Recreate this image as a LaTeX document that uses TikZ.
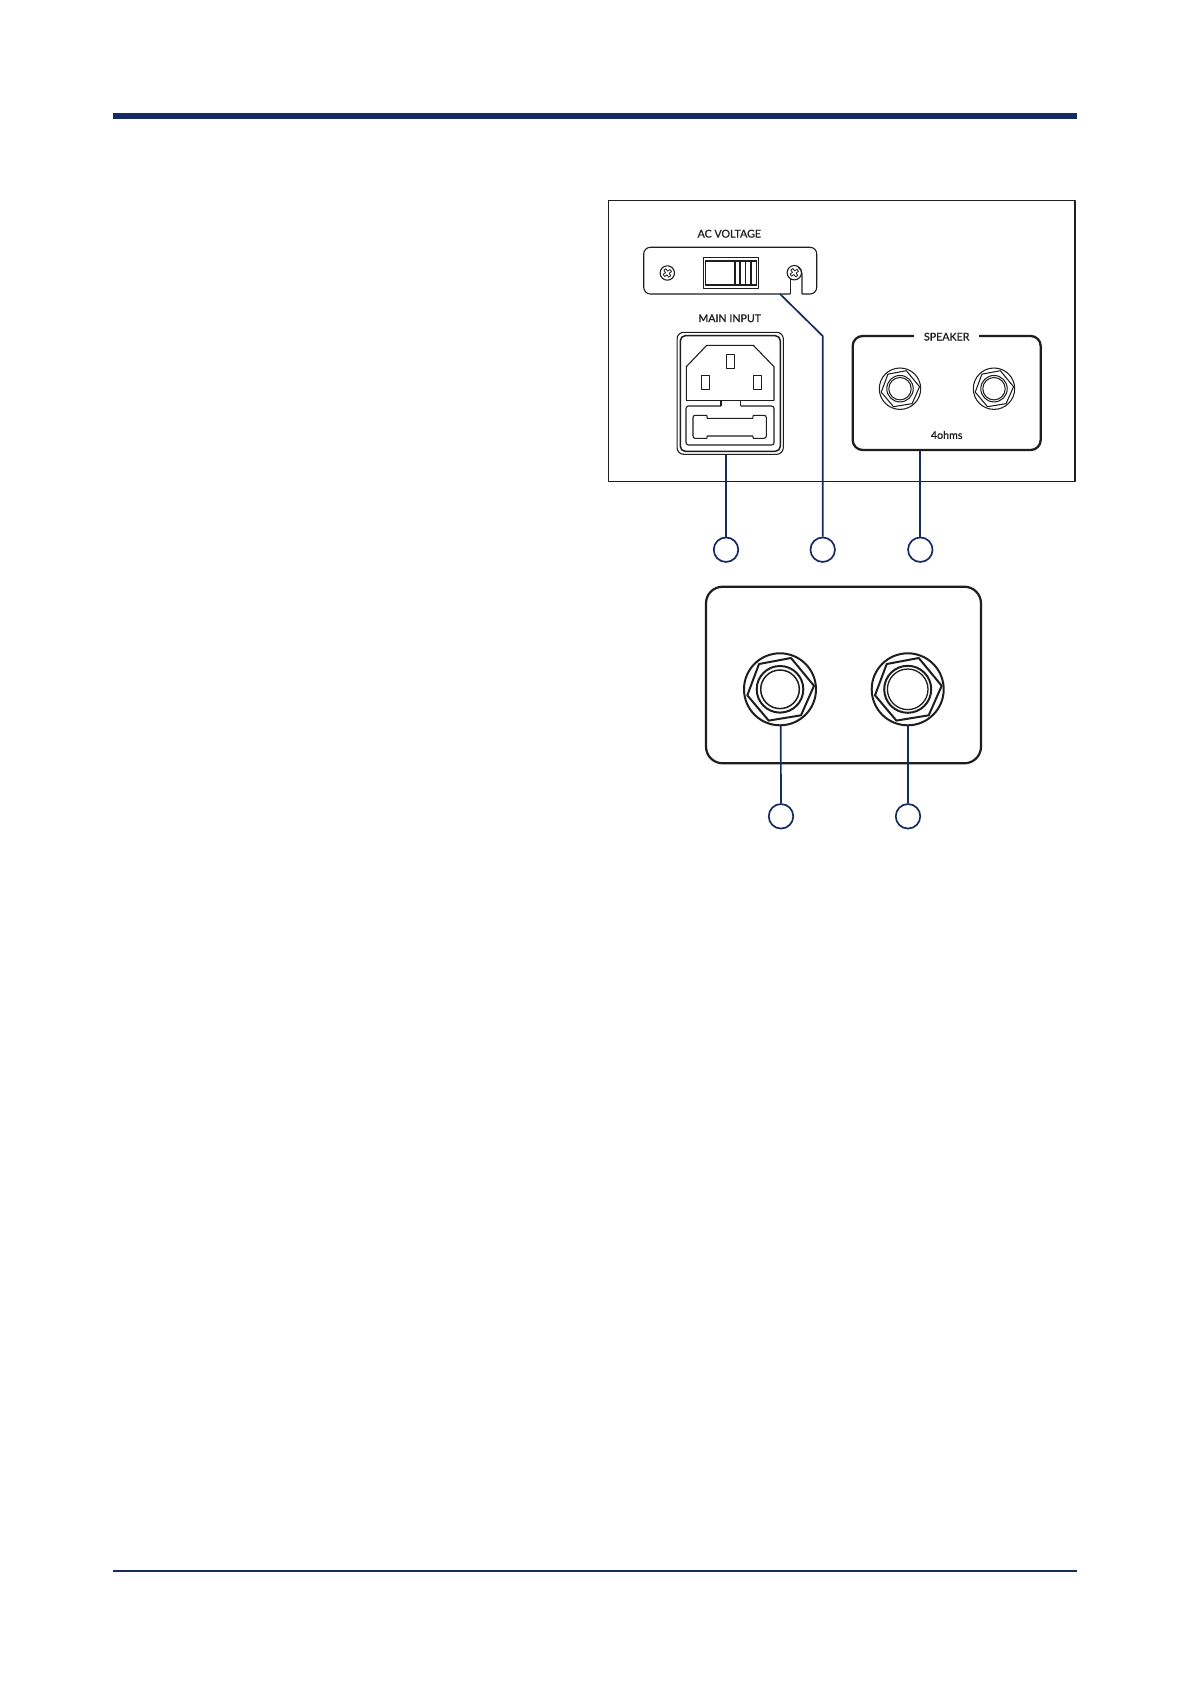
\documentclass[tikz,border=0pt]{standalone}
\usepackage{fontspec}
\setmainfont{Lato}
\definecolor{navy}{HTML}{142B63}
\definecolor{ink}{HTML}{1E1E1E}
\tikzset{
  x=0.6pt,y=-0.6pt,
  px/.style={line width=#1*0.6pt},
  callout/.style={circle,draw=navy,px=1.7,minimum size=24.5*0.6pt,inner sep=0pt,fill=white},
  lead/.style={draw=navy,px=1.7},
  labeltext/.style={text=ink,inner sep=0pt,font=\fontsize{6.4pt}{7pt}\selectfont\addfontfeature{FakeBold=0.9}},
  thin part/.style={draw=ink,px=1.1},
  hole/.style={circle,inner sep=0pt,minimum size=#1*1.2pt},
}
\newcommand{\jackpic}[8]{% x,y,scale,outer lw,hex lw,r1,r2,lw inner
  \begin{scope}[shift={(#1,#2)},scale=#3,draw=ink]
    \draw[px=#4] (0,0) circle[radius=36];
    \draw[px=#5] (34,-3.5) -- (21,26) -- (-11.3,31.3) -- (-32.7,6) -- (-21,-25.3) -- (11,-31.3) -- cycle;
    \draw[px=#4] (0,0) circle[radius=#7];
    \draw[px=#8] (0,0) circle[radius=#6];
  \end{scope}}
\newcommand{\screwpic}[2]{%
  \begin{scope}[shift={(#1,#2)},draw=ink]
    \draw[px=1.1] (0,0) circle[radius=7.2];
    \draw[px=.8,rotate=35] (-4.2,-1.3) -- (-1.3,-1.3) -- (-1.3,-4.2) -- (1.3,-4.2) -- (1.3,-1.3) -- (4.2,-1.3) -- (4.2,1.3) -- (1.3,1.3) -- (1.3,4.2) -- (-1.3,4.2) -- (-1.3,1.3) -- (-4.2,1.3) -- cycle;
  \end{scope}}
\begin{document}
\begin{tikzpicture}[line join=round]
\useasboundingbox[fill=white] (0,0) rectangle (1192,1685);
% rules
\fill[navy] (113,113) rectangle (1077,119);
\fill[navy] (113,1570) rectangle (1077,1572);
% panel
\draw[draw=ink,px=1.3] (608.3,200.3) rectangle (1075,481.3);
% AC voltage plate
\node[labeltext] (acv) at (729.3,233.7) {AC VOLTAGE};
\coordinate (plateexit) at (780,294);
\draw[thin part,rounded corners=4] (790.3,294) -- (643.7,294) -- (643.7,247.3) -- (816.7,247.3) -- (816.7,294) -- (802,294);
\draw[thin part] (790.3,294) -- (790.3,279);
\draw[thin part] (802,294) -- (802,274) arc[start angle=0,end angle=-60,radius=7.7];
\screwpic{667.3}{273}
\screwpic{794.3}{272.7}
\draw[draw=ink,px=1] (703.3,257.7) rectangle (758.7,289);
\draw[draw=ink,px=1.8] (757,285) -- (705.5,285) -- (705.5,260.7) -- (757,260.7);
\draw[draw=ink,px=1.1] (735,260.7) -- (735,285) (740,260.7) -- (740,285) (745.7,260.7) -- (745.7,285) (751,260.7) -- (751,285) (756.7,260.7) -- (756.7,285);
% main input
\node[labeltext] (mip) at (729.7,318.3) {MAIN INPUT};
\node[draw=ink,px=1.1,rounded corners=4,minimum width=106.3*0.6pt,minimum height=122*0.6pt,inner sep=0pt] (module) at (730.2,393.3) {};
\draw[draw=ink,px=1.5,rounded corners=3] (680.3,335.7) rectangle (780.3,451.3);
\draw[thin part] (686.3,400.7) -- (686.3,366.7) -- (706.7,345.3) -- (753.3,345.3) -- (774,366.7) -- (774,400.7);
\draw[thin part,px=1.3] (686.3,400.7) -- (721,400.7) (740.7,400.7) -- (774,400.7);
\draw[thin part] (721,406) -- (721,400.7) -- (740.7,400.7) -- (740.7,406);
\draw[thin part,rounded corners=1.5] (721,406) -- (686,406) -- (686,445) -- (774,445) -- (774,406) -- (740.7,406);
\draw[thin part] (706.7,415.3) -- (695,415.3) to[out=180,in=90] (693,417.5) -- (693,436) to[out=270,in=180] (695,438.3) -- (706.7,438.3) -- (707.3,436) -- (752.7,436) -- (753.3,438.3) -- (764,438.3) to[out=0,in=270] (766.3,436) -- (766.3,417.5) to[out=90,in=0] (764,415.3) -- (753.3,415.3) -- (752.7,418.3) -- (707.3,418.3) -- cycle;
\draw[thin part,px=.9] (726.7,354) rectangle (734.7,368.3);
\draw[thin part,px=.9] (701,375) rectangle (709,389);
\draw[thin part,px=.9] (753.7,375) rectangle (761.7,389);
% speaker panel
\node[draw=ink,px=2.3,rounded corners=6,minimum width=188*0.6pt,minimum height=114*0.6pt,inner sep=0pt] (spk) at (946.7,393) {};
\fill[white] (914,332) rectangle (979.3,340);
\node[labeltext] (spklabel) at (946.7,336.7) {SPEAKER};
\node[labeltext] (ohms) at (946.7,435) {4ohms};
\jackpic{900}{388.7}{0.575}{1.05}{1.05}{19.5}{23}{1.05}
\jackpic{994}{388.7}{0.575}{1.05}{1.05}{19.5}{23}{1.05}
% big panel
\node[draw=ink,px=2.2,rounded corners=10,minimum width=275*0.6pt,minimum height=176.6*0.6pt,inner sep=0pt] (bigbox) at (843.5,675) {};
\jackpic{780}{689.3}{1}{2}{2}{19.3}{23.3}{1.5}
\jackpic{907.7}{689.3}{1}{2}{2}{20.3}{23.5}{1.3}
\node[hole=36] (jackA) at (780.7,689.3) {};
\node[hole=36] (jackB) at (908,689.3) {};
% callouts
\node[callout] (c1) at (726,549.7) {};
\node[callout] (c2) at (822.7,549.7) {};
\node[callout] (c3) at (920.3,549.7) {};
\node[callout] (c4) at (781,816.3) {};
\node[callout] (c5) at (908,816.3) {};
\coordinate (bend) at (822.7,336);
\draw[lead] (c1.north) -- (c1.north |- module.south);
\draw[lead] (c2.north) -- (bend) -- (plateexit);
\draw[lead] (c3.north) -- (c3.north |- spk.south);
\draw[lead] (c4.north) -- (jackA.south);
\draw[lead] (c5.north) -- (jackB.south);
\end{tikzpicture}
\end{document}
